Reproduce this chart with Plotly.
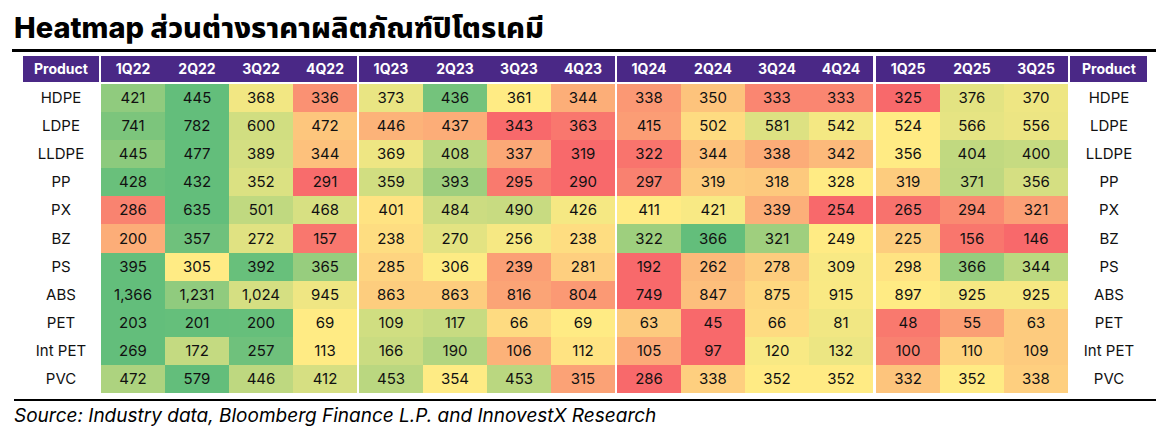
import numpy as np
import plotly.graph_objects as go

# ---------------- data ----------------
products = ["HDPE", "LDPE", "LLDPE", "PP", "PX", "BZ", "PS", "ABS", "PET", "Int PET", "PVC"]
quarters = ["1Q22", "2Q22", "3Q22", "4Q22",
            "1Q23", "2Q23", "3Q23", "4Q23",
            "1Q24", "2Q24", "3Q24", "4Q24",
            "1Q25", "2Q25", "3Q25"]
year_groups = [4, 4, 4, 3]  # number of quarters in each year block

hdpe = [421, 445, 368, 336, 373, 436, 361, 344, 338, 350, 333, 333, 325, 376, 370]
ldpe = [741, 782, 600, 472, 446, 437, 343, 363, 415, 502, 581, 542, 524, 566, 556]
lldpe = [445, 477, 389, 344, 369, 408, 337, 319, 322, 344, 338, 342, 356, 404, 400]
pp = [428, 432, 352, 291, 359, 393, 295, 290, 297, 319, 318, 328, 319, 371, 356]
px = [286, 635, 501, 468, 401, 484, 490, 426, 411, 421, 339, 254, 265, 294, 321]
bz = [200, 357, 272, 157, 238, 270, 256, 238, 322, 366, 321, 249, 225, 156, 146]
ps = [395, 305, 392, 365, 285, 306, 239, 281, 192, 262, 278, 309, 298, 366, 344]
abs_ = [1366, 1231, 1024, 945, 863, 863, 816, 804, 749, 847, 875, 915, 897, 925, 925]
pet = [203, 201, 200, 69, 109, 117, 66, 69, 63, 45, 66, 81, 48, 55, 63]
int_pet = [269, 172, 257, 113, 166, 190, 106, 112, 105, 97, 120, 132, 100, 110, 109]
pvc = [472, 579, 446, 412, 453, 354, 453, 315, 286, 338, 352, 352, 332, 352, 338]

rows = [hdpe, ldpe, lldpe, pp, px, bz, ps, abs_, pet, int_pet, pvc]

# ---------------- styling / layout constants ----------------
W, H = 1156, 427
PURPLE = "#4a2886"
RYG = [[0.0, "#F8696B"], [0.5, "#FFEB84"], [1.0, "#63BE7B"]]
FONT = "Inter, 'Noto Sans', 'Noto Sans Thai', 'DejaVu Sans', sans-serif"

prod_left = (23, 99)
prod_right = (1070, 1147)
group_starts = [101, 359, 617, 876]
cell_w = 64.1
header_top, header_bot = 56, 82
body_top, row_h = 84, 28.1

# row-wise Excel-style 3-colour scale (min / 50th percentile / max)
vals = np.array(rows, dtype=float)
norm = np.zeros_like(vals)
for i, r in enumerate(vals):
    lo, med, hi = r.min(), np.percentile(r, 50), r.max()
    for j, v in enumerate(r):
        if v <= med:
            norm[i, j] = 0.0 if med == lo else 0.5 * (v - lo) / (med - lo)
        else:
            norm[i, j] = 0.5 + 0.5 * (v - med) / (hi - med)

body_y_edges = [body_top + row_h * k for k in range(len(products) + 1)]
header_y_edges = [header_top, header_bot]

fig = go.Figure()

# body heatmap blocks, one per year group
col = 0
for g, n in enumerate(year_groups):
    xe = [group_starts[g] + cell_w * k for k in range(n + 1)]
    z = norm[:, col:col + n]
    txt = [[f"{int(v):,}" for v in r[col:col + n]] for r in rows]
    fig.add_trace(go.Heatmap(
        z=z, x=xe, y=body_y_edges, text=txt, texttemplate="%{text}",
        textfont=dict(family=FONT, size=15, color="#111111"),
        colorscale=RYG, zmin=0, zmax=1, showscale=False, hoverinfo="skip"))
    # header block
    fig.add_trace(go.Heatmap(
        z=[[1] * n], x=xe, y=header_y_edges,
        text=[[f"<b>{q}</b>" for q in quarters[col:col + n]]], texttemplate="%{text}",
        textfont=dict(family=FONT, size=14, color="white"),
        colorscale=[[0, PURPLE], [1, PURPLE]], showscale=False, hoverinfo="skip"))
    col += n

# product label columns (left and right)
for (x0, x1) in (prod_left, prod_right):
    fig.add_trace(go.Heatmap(
        z=[[0] for _ in products], x=[x0, x1], y=body_y_edges,
        text=[[p] for p in products], texttemplate="%{text}",
        textfont=dict(family=FONT, size=15, color="#111111"),
        colorscale=[[0, "white"], [1, "white"]], showscale=False, hoverinfo="skip"))
    fig.add_trace(go.Heatmap(
        z=[[1]], x=[x0, x1], y=header_y_edges,
        text=[["<b>Product</b>"]], texttemplate="%{text}",
        textfont=dict(family=FONT, size=14, color="white"),
        colorscale=[[0, PURPLE], [1, PURPLE]], showscale=False, hoverinfo="skip"))

# bottom rule drawn as a thin black band
fig.add_trace(go.Heatmap(
    z=[[1]], x=[14, W], y=[399, 401],
    colorscale=[[0, "black"], [1, "black"]], showscale=False, hoverinfo="skip"))

# title, top rule and source
fig.add_annotation(x=12, y=27, xref="x", yref="y", xanchor="left", yanchor="middle",
                   text="Heatmap ส่วนต่างราคาผลิตภัณฑ์ปิโตรเคมี", showarrow=False,
                   font=dict(family=FONT, size=29, color="black", weight=800))
fig.add_shape(type="line", x0=12, x1=W, y0=50.5, y1=50.5,
              xref="x", yref="y", line=dict(color="black", width=3), layer="above")
fig.add_shape(type="line", x0=14, x1=W, y0=400, y1=400,
              xref="x", yref="y", line=dict(color="black", width=2), layer="above")
fig.add_annotation(x=14, y=404, xref="x", yref="y", xanchor="left", yanchor="top",
                   text="<i>Source: Industry data, Bloomberg Finance L.P. and InnovestX Research</i>",
                   showarrow=False, bgcolor="rgba(0,0,0,0)", borderpad=0, borderwidth=0,
                   font=dict(family=FONT, size=19, color="black"))

fig.update_layout(
    width=W, height=H, margin=dict(l=0, r=0, t=0, b=0),
    paper_bgcolor="white", plot_bgcolor="white",
    xaxis=dict(range=[0, W], visible=False, fixedrange=True),
    yaxis=dict(range=[H, 0], visible=False, fixedrange=True),
    showlegend=False,
)

fig.write_html("out.html")
